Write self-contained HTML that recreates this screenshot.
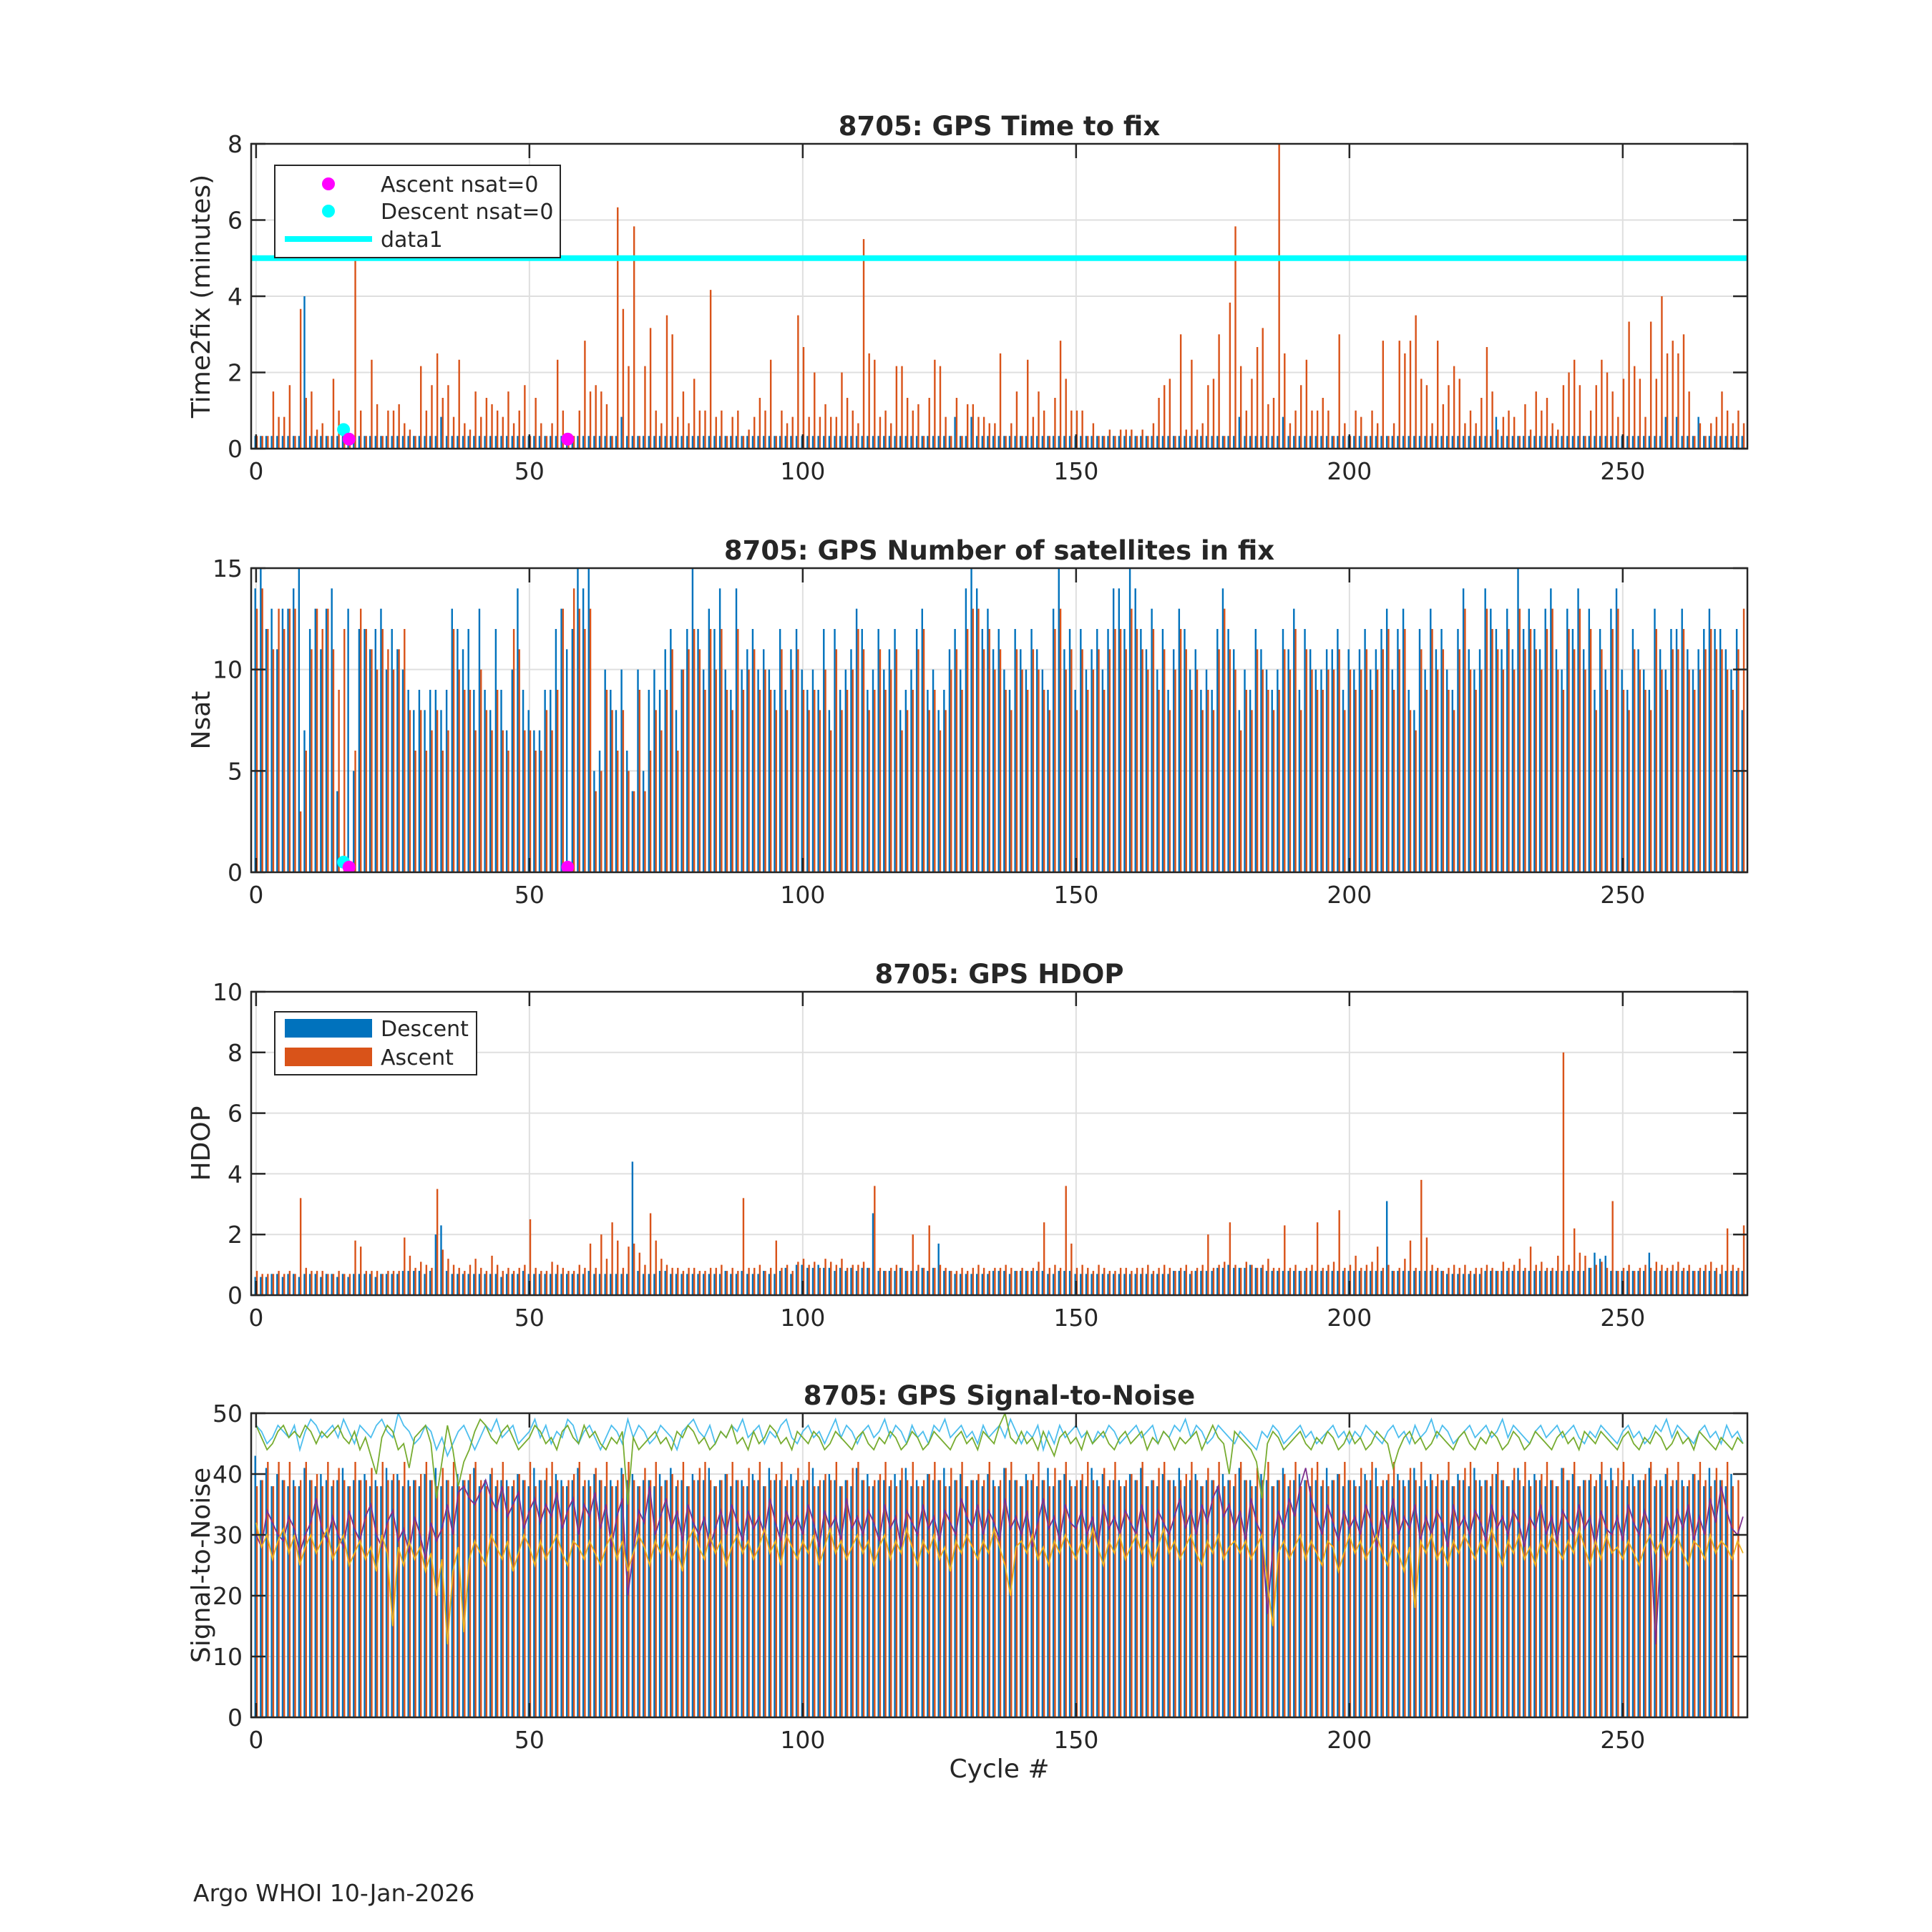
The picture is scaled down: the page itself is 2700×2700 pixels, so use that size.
<!DOCTYPE html>
<html><head><meta charset="utf-8"><style>
html,body{margin:0;padding:0;background:#fff}
svg{display:block}
text{font-family:"DejaVu Sans","Liberation Sans",sans-serif;fill:#262626}
</style></head><body>
<svg id="fig" width="2700" height="2700" viewBox="0 0 2700 2700" xmlns="http://www.w3.org/2000/svg">
<rect width="2700" height="2700" fill="#fff"/>
<text x="270" y="2657" font-size="33">Argo WHOI 10-Jan-2026</text>
</svg>
<script>
const timeAscSec=[20,20,20,90,50,50,100,20,220,80,90,30,40,20,110,60,20,20,300,60,20,140,70,20,60,60,70,40,30,20,130,60,100,150,80,100,50,140,40,30,90,50,80,70,60,50,90,40,60,100,20,80,40,20,40,140,60,20,20,60,170,90,100,90,70,20,380,220,130,350,20,130,190,60,40,210,180,50,90,40,110,60,60,250,50,60,20,50,60,20,30,50,80,60,140,20,60,40,50,210,160,50,120,50,70,50,50,120,80,60,40,330,150,140,50,60,40,130,130,80,60,70,20,80,140,130,50,20,80,20,70,70,50,50,40,40,150,20,40,90,20,140,50,90,60,20,80,170,110,60,60,60,20,40,20,20,30,20,30,30,30,20,30,20,40,80,100,110,20,180,30,140,30,40,100,110,180,20,230,350,130,60,110,160,190,70,80,480,150,40,60,100,140,60,60,80,60,20,180,40,20,60,50,20,60,40,170,20,40,170,150,170,210,110,100,40,170,70,100,130,110,40,60,40,80,160,90,30,50,60,50,20,70,30,90,60,80,40,30,100,120,140,100,20,60,100,140,120,90,50,110,200,130,110,50,200,110,240,150,170,150,180,90,20,40,20,40,50,90,60,40,60,40];
const timeDescSec=[20,20,20,20,20,20,20,20,20,240,20,20,20,20,20,20,20,20,20,20,20,20,20,20,20,20,20,20,20,20,20,20,20,20,50,20,20,20,20,20,20,20,20,20,20,20,20,20,20,20,20,20,20,20,20,20,20,20,20,20,20,20,20,20,20,20,20,50,20,20,20,20,20,20,20,20,20,20,20,20,20,20,20,20,20,20,20,20,20,20,20,20,20,20,20,20,20,20,20,20,20,20,20,20,20,20,20,20,20,20,20,20,20,20,20,20,20,20,20,20,20,20,20,20,20,20,20,20,50,20,20,50,20,20,20,20,20,20,20,20,20,20,20,20,20,20,20,20,20,20,20,20,20,20,20,20,20,20,20,20,20,20,20,20,20,20,20,20,20,20,20,20,20,20,20,20,20,20,20,20,50,20,20,20,20,20,20,20,50,20,20,20,20,20,20,20,20,20,20,20,20,20,20,20,20,20,20,20,20,20,20,20,20,20,20,20,20,20,20,20,20,20,20,20,20,20,20,50,20,20,20,20,20,20,20,20,20,20,20,20,20,20,20,20,20,20,20,20,20,20,20,20,20,20,20,20,20,20,50,20,50,20,20,20,50,20,20,20,20,20,20,20,20,20];
const nsatDesc=[14,15,12,13,11,13,13,14,15,7,12,13,11,13,14,4,0,13,5,12,12,11,12,13,10,12,11,10,9,8,9,8,9,9,8,9,13,12,11,12,9,13,9,8,12,9,7,10,14,9,8,7,7,9,9,12,13,11,12,15,14,15,5,6,10,9,8,10,6,4,10,5,9,10,9,11,12,8,10,12,15,12,10,13,12,14,10,9,14,10,11,12,10,11,10,9,12,9,11,12,10,9,10,9,12,8,12,9,10,11,13,12,9,10,12,10,11,12,8,9,10,12,13,9,10,8,9,11,12,10,14,15,14,12,13,11,12,10,9,12,11,10,12,11,10,9,13,15,11,12,9,12,10,11,12,10,12,14,14,12,15,14,12,11,13,10,12,9,11,13,12,10,11,9,10,9,12,14,12,11,8,10,9,12,11,10,9,10,12,11,13,9,12,11,10,10,11,11,12,9,11,10,11,12,10,11,12,13,10,12,13,9,8,12,10,13,11,12,10,9,12,14,11,10,11,14,13,12,11,13,11,15,12,13,12,11,13,14,11,10,13,12,14,11,13,9,12,10,13,14,10,9,12,11,10,9,13,11,10,12,12,13,11,10,11,12,13,12,12,11,10,12,8];
const nsatAsc=[13,14,12,11,13,12,13,13,3,6,11,13,12,13,11,9,12,0,6,13,12,11,10,12,11,10,11,12,8,6,8,6,7,8,6,7,12,10,9,9,7,10,8,7,9,7,6,12,11,7,7,6,6,8,7,9,13,0,14,13,12,13,4,5,9,8,6,8,5,4,9,4,6,8,7,9,11,6,10,11,12,11,9,12,10,12,9,8,12,9,10,11,9,10,9,8,11,8,10,11,9,8,9,8,10,7,11,8,9,10,12,11,8,9,11,9,10,11,7,8,9,11,12,8,9,7,8,10,11,9,12,13,13,11,12,10,11,9,8,11,10,9,11,10,9,8,12,13,10,11,8,11,9,10,11,9,11,12,12,11,13,12,11,10,12,9,11,8,10,12,11,9,10,8,9,8,11,13,11,10,7,9,8,11,10,9,8,9,11,10,12,8,11,10,9,9,10,10,11,8,10,9,10,11,9,10,11,12,9,11,12,8,7,11,9,12,10,11,9,8,11,13,10,9,10,13,12,11,10,12,10,13,11,12,11,10,12,13,10,9,12,11,13,10,12,8,11,9,12,13,9,8,11,10,9,8,12,10,9,11,11,12,10,9,10,11,12,11,11,10,9,11,13];
const hdopAscX10=[8,7,7,7,8,7,8,7,32,9,8,8,8,7,7,8,7,7,18,16,8,8,8,7,8,8,8,19,13,9,11,10,9,35,15,12,10,9,8,10,12,9,8,13,10,8,9,8,9,10,25,9,8,8,11,10,9,8,8,10,9,17,9,20,12,24,18,9,16,17,14,10,27,18,12,10,9,9,8,9,9,8,8,9,9,10,8,9,8,32,9,9,10,8,9,18,9,10,8,11,12,10,11,9,12,11,10,12,9,10,10,11,9,36,9,8,9,10,9,8,20,10,9,23,9,10,9,8,8,9,8,9,10,9,8,9,9,10,9,8,9,8,9,11,24,9,10,9,36,17,9,10,9,8,10,9,8,8,9,9,8,9,9,10,8,9,10,9,8,9,10,8,9,10,20,9,10,11,24,10,9,11,10,9,10,12,9,9,23,9,10,8,9,10,24,9,10,11,28,9,10,13,9,10,11,16,9,10,8,9,12,18,9,38,19,10,9,8,9,10,9,10,8,9,9,10,9,8,11,9,10,12,9,16,10,11,9,9,13,80,10,22,14,13,9,10,11,9,31,8,9,10,8,9,10,9,11,10,9,10,11,9,10,8,9,10,11,9,10,22,10,9,23];
const hdopDescX10=[6,6,6,7,7,6,7,7,6,7,7,7,6,7,7,6,7,6,7,7,7,7,6,7,7,7,7,8,8,8,8,7,8,20,23,8,7,7,7,7,7,7,7,7,7,6,7,7,7,8,7,7,7,7,7,7,7,7,7,7,7,8,7,7,7,7,7,7,7,44,8,7,7,7,8,8,7,7,7,7,7,7,7,7,7,7,8,7,7,8,7,7,7,8,7,7,8,9,7,10,10,9,9,10,9,9,8,9,8,9,8,9,9,27,8,8,8,8,9,8,8,8,9,8,9,17,8,8,7,7,7,7,7,7,7,8,8,8,7,8,8,8,8,8,8,7,7,8,8,8,7,7,7,7,7,7,7,7,7,7,7,7,7,7,7,7,7,7,8,8,8,7,8,8,8,8,9,9,10,9,9,9,10,9,9,8,8,8,8,8,8,8,8,8,8,8,8,8,8,8,8,8,8,8,8,8,8,31,8,8,8,8,8,8,8,8,8,8,7,7,7,7,7,7,7,8,8,8,8,8,8,8,8,8,8,8,8,8,8,8,8,8,8,8,9,14,12,13,8,8,8,8,8,8,8,14,8,8,8,8,8,8,8,8,8,8,8,8,7,8,8,8,8];
const snrAscBar=[38,39,42,38,42,39,42,38,39,42,39,40,38,42,39,41,39,38,42,39,39,41,38,42,39,40,39,42,38,39,40,42,39,38,41,39,42,38,39,40,42,39,38,41,39,42,38,39,40,39,42,38,39,41,42,39,38,39,40,42,39,38,41,39,42,38,39,40,42,39,38,41,39,42,38,39,40,39,42,38,39,41,42,39,38,39,40,42,39,38,41,39,42,38,39,40,42,39,38,41,39,42,38,39,40,39,42,38,39,41,42,39,38,39,40,42,39,38,41,39,42,38,39,40,42,39,38,41,39,42,38,39,40,39,42,38,39,41,42,39,38,39,40,42,39,38,41,39,42,38,39,40,42,39,38,41,39,42,38,39,40,39,42,38,39,41,42,39,38,39,40,42,39,38,41,39,42,38,39,40,42,39,38,41,39,42,38,39,40,39,42,38,39,41,42,39,38,39,40,42,39,38,41,39,42,38,39,40,42,39,38,41,39,42,38,39,40,39,42,38,39,41,42,39,38,39,40,42,39,38,41,39,42,38,39,40,42,39,38,41,39,42,38,39,40,39,42,38,39,41,42,39,38,39,40,42,39,38,41,39,42,38,39,40,42,39,38,41,39,42,38,39];
const snrDescBar=[43,39,41,38,40,39,38,39,38,41,39,38,40,39,38,39,41,38,39,39,40,38,39,38,41,39,40,38,39,39,38,40,39,41,38,39,38,40,39,39,41,38,39,40,38,39,39,38,40,39,38,41,39,39,38,40,39,38,39,41,38,39,40,39,38,39,38,41,39,40,38,39,39,38,40,39,41,38,39,38,40,39,39,41,38,39,40,38,39,39,38,40,39,38,41,39,39,38,40,39,38,39,41,38,39,40,39,38,39,38,41,39,40,38,39,39,38,40,39,41,38,39,38,40,39,39,41,38,39,40,38,39,39,38,40,39,38,41,39,39,38,40,39,38,39,41,38,39,40,39,38,39,38,41,39,40,38,39,39,38,40,39,41,38,39,38,40,39,39,41,38,39,40,38,39,39,38,40,39,38,41,39,39,38,40,39,38,39,41,38,39,40,39,38,39,38,41,39,40,38,39,39,38,40,39,41,38,39,38,40,39,39,41,38,39,40,38,39,39,38,40,39,38,41,39,39,38,40,39,38,39,41,38,39,40,39,38,39,38,41,39,40,38,39,39,38,40,39,41,38,39,38,40,39,39,41,38,39,40,38,39,39,38,40,39,38,41,39,39,38,40];
const snrCyan=[48,47,45,46,48,47,46,48,44,47,49,48,46,47,48,46,49,47,45,48,47,46,48,49,47,46,50,48,47,45,46,48,47,44,46,43,45,47,48,46,44,46,48,47,49,46,47,48,45,46,47,49,46,48,45,47,46,49,48,45,47,48,46,44,46,48,47,45,49,46,48,47,45,46,48,47,46,44,47,48,49,47,46,48,45,47,46,48,47,49,46,47,48,45,47,46,48,49,46,45,47,48,46,47,45,47,49,46,48,47,45,47,48,46,47,49,46,48,47,45,48,46,47,45,48,47,49,46,47,48,46,47,45,48,46,47,48,46,49,47,45,47,46,48,44,47,45,48,46,47,48,46,47,45,47,46,48,47,45,46,47,48,46,47,48,45,47,46,48,47,49,46,48,47,45,46,48,47,46,45,47,46,45,44,47,46,48,47,45,46,47,48,46,47,45,46,47,48,46,47,45,47,46,48,47,46,45,47,48,46,47,45,48,46,47,49,46,48,47,45,46,47,48,46,47,48,46,47,49,46,48,47,46,45,47,48,46,47,48,46,47,48,46,45,47,46,48,47,46,45,47,48,46,47,45,46,48,47,49,46,48,47,46,45,47,48,46,47,45,48,46,47,45];
const snrGreen=[48,46,44,45,47,48,46,47,46,48,47,45,47,46,47,48,46,45,47,44,46,43,40,46,48,47,44,45,41,46,47,48,45,36,42,48,44,38,42,44,47,49,48,46,45,47,48,46,44,45,46,48,47,45,46,44,47,48,46,45,48,46,47,45,44,46,45,47,35,46,44,45,46,47,45,46,44,47,46,48,47,45,46,44,45,47,46,48,45,46,44,47,45,46,48,47,45,46,44,47,46,45,47,46,44,45,47,46,45,44,46,47,45,44,46,45,47,46,44,45,47,46,44,45,47,46,45,44,46,47,45,46,44,47,46,45,48,50,46,45,47,45,46,44,47,45,43,46,47,45,46,44,47,45,46,47,45,44,46,47,45,46,47,44,46,45,47,46,44,46,45,46,47,44,46,48,46,45,40,47,46,45,44,42,36,45,47,46,44,45,46,47,45,44,46,45,47,46,44,45,47,45,46,44,45,47,46,45,41,44,46,47,45,46,44,45,47,46,45,44,46,47,45,44,46,45,47,46,44,45,47,46,44,45,47,46,45,44,46,47,45,46,44,47,46,45,47,46,45,44,46,47,45,44,46,45,47,46,44,45,47,45,46,44,47,46,45,44,46,45,44,46,45];
const snrPurple=[30,28,34,32,30,29,33,31,27,30,32,36,31,29,33,30,28,34,31,29,33,35,30,28,32,34,29,31,27,33,30,26,32,29,31,35,30,37,38,36,35,37,39,36,34,38,33,35,37,31,34,36,32,35,33,37,31,34,36,30,35,33,37,31,35,28,33,36,20,27,34,32,38,30,33,36,31,34,29,35,32,30,33,28,31,34,30,35,32,29,34,31,33,30,36,32,29,34,31,33,30,35,32,28,34,31,33,29,36,31,33,30,34,32,29,35,31,33,28,34,32,30,35,31,33,29,34,32,30,36,33,31,35,30,34,32,29,36,31,33,30,34,28,32,36,31,33,29,35,32,31,34,30,33,28,35,31,33,30,34,32,30,35,31,29,34,32,30,33,36,31,34,30,35,32,36,38,33,35,31,34,29,36,32,30,17,28,34,31,36,33,38,41,36,33,30,35,32,29,34,31,33,30,35,32,28,34,31,36,30,33,31,35,29,33,30,34,32,28,35,31,33,30,34,32,29,35,31,33,30,34,32,28,33,31,35,30,33,29,34,32,30,35,31,33,28,34,31,30,33,29,35,32,30,34,31,12,28,33,30,34,31,35,29,33,30,36,32,38,34,31,30,33];
const snrOrange=[32,28,30,26,29,31,27,30,25,28,30,27,29,31,26,28,30,25,27,29,26,28,24,30,27,15,28,25,29,26,28,24,27,20,26,12,24,28,14,26,29,27,25,30,28,26,29,24,27,30,28,25,29,26,28,30,27,25,29,28,26,29,27,25,28,30,26,29,24,27,30,28,25,29,27,30,26,28,24,29,31,28,26,30,27,29,25,28,30,27,29,26,28,31,27,29,25,30,28,26,29,27,30,25,28,31,27,29,26,28,30,27,29,25,28,30,26,29,27,31,28,25,29,27,30,26,28,24,29,27,30,28,26,29,27,31,28,25,20,28,29,27,30,26,28,25,29,27,30,28,26,29,27,31,28,25,29,27,30,26,28,30,27,29,25,28,31,27,29,26,28,30,27,25,29,27,30,26,28,29,27,29,26,28,30,22,15,27,29,26,28,30,26,29,27,25,29,28,24,27,30,27,29,26,28,30,27,25,29,27,24,28,18,29,27,30,26,28,25,29,27,30,28,26,29,27,31,28,25,29,27,30,26,28,25,29,27,30,28,26,29,27,31,28,25,29,26,30,27,28,26,29,27,25,28,30,27,29,26,28,30,27,25,29,28,26,30,27,29,28,26,29,27];
const xTicks=[0,50,100,150,200,250];
const thresholdMin=5;

const NS='http://www.w3.org/2000/svg';
const svg=document.getElementById('fig');
const L=351,R=2442,XMIN=-0.9,XMAX=272.8;
const BLUE='#0072BD',ORG='#D95319';
function sx(v){return L+(v-XMIN)/(XMAX-XMIN)*(R-L);}
function mk(tag,attrs,parent){const e=document.createElementNS(NS,tag);for(const k in attrs)e.setAttribute(k,attrs[k]);(parent||svg).appendChild(e);return e;}
function txt(s,attrs,parent){const e=mk('text',attrs,parent);e.textContent=s;return e;}
const defs=mk('defs',{});
let clipN=0;

function makeAxes(name,T,B,ymax,yticks,title,ylabel){
  const g=mk('g',{});
  
  
  const sy=v=>B-(v/ymax)*(B-T);
  const cid='clip'+(clipN++);
  const cp=mk('clipPath',{id:cid},defs);
  mk('rect',{x:L,y:T,width:R-L,height:B-T},cp);
  mk('rect',{x:L,y:T,width:R-L,height:B-T,fill:'#fff'},g);
  const grid=mk('g',{stroke:'#dfdfdf','stroke-width':2},g);
  
  
  xTicks.forEach(t=>mk('line',{x1:sx(t),x2:sx(t),y1:T,y2:B},grid));
  yticks.forEach(t=>mk('line',{x1:L,x2:R,y1:sy(t),y2:sy(t)},grid));
  const plot=mk('g',{'clip-path':`url(#${cid})`},g);
  
  
  const over=mk('g',{'clip-path':`url(#${cid})`},g);
  return {g,sy,T,B,plot,over,finish(){
    const ax=mk('g',{stroke:'#262626','stroke-width':2.5,fill:'none'},g);
    
    
    mk('rect',{x:L,y:T,width:R-L,height:B-T},ax);
    xTicks.forEach(t=>{mk('line',{x1:sx(t),x2:sx(t),y1:B,y2:B-20},ax);mk('line',{x1:sx(t),x2:sx(t),y1:T,y2:T+20},ax);});
    yticks.forEach(t=>{mk('line',{x1:L,x2:L+20,y1:sy(t),y2:sy(t)},ax);mk('line',{x1:R,x2:R-20,y1:sy(t),y2:sy(t)},ax);});
    xTicks.forEach(t=>{const e=txt(String(t),{x:sx(t),y:B+43,'font-size':33,'text-anchor':'middle'},g);
      
      });
    yticks.forEach(t=>{const e=txt(String(t),{x:L-12,y:sy(t)+12,'font-size':33,'text-anchor':'end'},g);
      
      });
    const ti=txt(title,{x:(L+R)/2,y:T-12,'font-size':37,'font-weight':'bold','text-anchor':'middle'},g);
    
    
    const yl=txt(ylabel,{x:0,y:0,'font-size':36,'text-anchor':'middle',transform:`translate(${L-58},${(T+B)/2}) rotate(-90)`},g);
    
    
  }};
}
function bars(ax,vals,off,color,scale){
  vals.forEach((v,i)=>{const val=v*scale;if(val<=0)return;
    const y=ax.sy(val);
    const r=mk('rect',{x:sx(i+off)-1.2,y:y,width:2.4,height:ax.B-y,fill:color},ax.plot);
    
    });
}
function zeroMarkers(ax,arr,color,yv,off){
  arr.forEach((v,i)=>{if(v===0){const c=mk('circle',{cx:sx(i+off),cy:ax.sy(yv),r:9,fill:color},ax.over);
    
    }});
}

const a1=makeAxes('time-to-fix-chart',201,627,8,[0,2,4,6,8],'8705: GPS Time to fix','Time2fix (minutes)');
bars(a1,timeDescSec,-0.15,BLUE,1/60);
bars(a1,timeAscSec,0.15,ORG,1/60);
const th=mk('line',{x1:L,x2:R,y1:a1.sy(thresholdMin),y2:a1.sy(thresholdMin),stroke:'#00FFFF','stroke-width':8},a1.over);


zeroMarkers(a1,nsatDesc,'#00FFFF',0.5,0);
zeroMarkers(a1,nsatAsc,'#FF00FF',0.25,0);
a1.finish();
{const lg=mk('g',{},a1.g);
 
 
 mk('rect',{x:384,y:231,width:399,height:129,fill:'#fff',stroke:'#262626','stroke-width':2},lg);
 mk('circle',{cx:459,cy:257,r:9,fill:'#FF00FF'},lg);
 mk('circle',{cx:459,cy:295,r:9,fill:'#00FFFF'},lg);
 mk('line',{x1:398,x2:520,y1:334,y2:334,stroke:'#00FFFF','stroke-width':8},lg);
 [['Ascent nsat=0',268],['Descent nsat=0',306],['data1',345]].forEach(([s,y])=>{const e=txt(s,{x:532,y:y,'font-size':30},lg);
   
   });}

const a2=makeAxes('nsat-chart',794,1219,15,[0,5,10,15],'8705: GPS Number of satellites in fix','Nsat');
bars(a2,nsatDesc,-0.15,BLUE,1);
bars(a2,nsatAsc,0.15,ORG,1);
zeroMarkers(a2,nsatDesc,'#00FFFF',0.5,0);
zeroMarkers(a2,nsatAsc,'#FF00FF',0.25,0);
a2.finish();

const a3=makeAxes('hdop-chart',1386,1810,10,[0,2,4,6,8,10],'8705: GPS HDOP','HDOP');
bars(a3,hdopDescX10,-0.15,BLUE,0.1);
bars(a3,hdopAscX10,0.15,ORG,0.1);
a3.finish();
{const lg=mk('g',{},a3.g);
 
 
 mk('rect',{x:384,y:1414,width:282,height:88,fill:'#fff',stroke:'#262626','stroke-width':2},lg);
 mk('rect',{x:398,y:1424,width:122,height:26,fill:BLUE},lg);
 mk('rect',{x:398,y:1464,width:122,height:26,fill:ORG},lg);
 [['Descent',1448],['Ascent',1488]].forEach(([s,y])=>{const e=txt(s,{x:532,y:y,'font-size':30},lg);
   
   });}

const a4=makeAxes('snr-chart',1975,2400,50,[0,10,20,30,40,50],'8705: GPS Signal-to-Noise','Signal-to-Noise');
bars(a4,snrDescBar,-0.15,BLUE,1);
bars(a4,snrAscBar,0.15,ORG,1);
[[snrCyan,'#4DBEEE','snr-line-cyan'],[snrGreen,'#77AC30','snr-line-green'],[snrPurple,'#7E2F8E','snr-line-purple'],[snrOrange,'#EDB120','snr-line-yellow']].forEach(([arr,c,n])=>{
  const pts=arr.map((v,i)=>sx(i).toFixed(1)+','+a4.sy(v).toFixed(1)).join(' ');
  const p=mk('polyline',{points:pts,fill:'none',stroke:c,'stroke-width':1.8},a4.plot);
  
  
});
a4.finish();
{const e=txt('Cycle #',{x:(L+R)/2,y:2484,'font-size':36,'text-anchor':'middle'});
 
 }
</script>
</body></html>
